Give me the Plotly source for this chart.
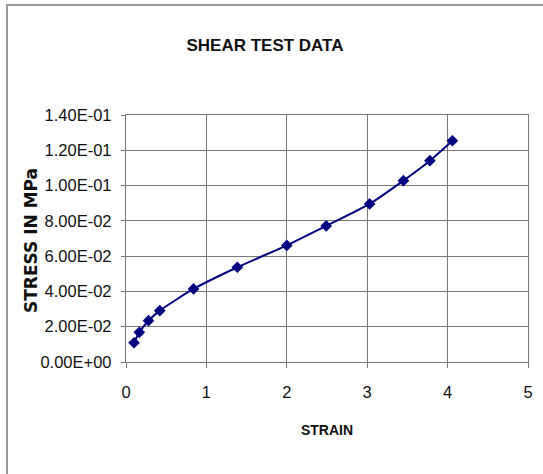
import plotly.graph_objects as go

strain = [0.10, 0.165, 0.28, 0.42, 0.84, 1.385, 2.0, 2.49, 3.03, 3.45, 3.78, 4.06]
stress = [0.0109, 0.0168, 0.0234, 0.0291, 0.0414, 0.0537, 0.0661, 0.0771, 0.0896, 0.1028, 0.1141, 0.1254]
y_tick_vals = [0, 0.02, 0.04, 0.06, 0.08, 0.10, 0.12, 0.14]
y_tick_text = ["0.00E+00", "2.00E-02", "4.00E-02", "6.00E-02", "8.00E-02", "1.00E-01", "1.20E-01", "1.40E-01"]
x_tick_vals = [0, 1, 2, 3, 4, 5]

FONT = "Liberation Sans Narrow, Arial Narrow, Liberation Sans, Arial, sans-serif"

fig = go.Figure()
fig.add_trace(go.Scatter(
    x=strain, y=stress, mode="lines+markers",
    line=dict(color="#000080", width=2, shape="spline", smoothing=0.6),
    marker=dict(symbol="diamond", size=9, color="#000080"),
    showlegend=False,
))

fig.update_layout(
    width=543, height=474,
    margin=dict(l=126, r=15, t=115, b=112, autoexpand=False),
    paper_bgcolor="white", plot_bgcolor="white",
    font=dict(family=FONT, size=16.5, color="#111111"),
    title=dict(text="<b>SHEAR TEST DATA</b>", x=0.488, xanchor="center", y=0.905, yanchor="middle",
               font=dict(family=FONT, size=17, color="#111111")),
    xaxis=dict(range=[0, 5], tickvals=x_tick_vals, showgrid=True, gridcolor="#777777", gridwidth=1.3,
               ticks="outside", ticklen=5, tickcolor="#777777", ticklabelstandoff=10,
               zeroline=False, showline=True, linecolor="#777777", linewidth=1.3, mirror=True,
               automargin=False,
               tickfont=dict(size=16.5),
               title=dict(text="<b>STRAIN</b>", font=dict(size=14), standoff=25)),
    yaxis=dict(range=[0, 0.14], tickvals=y_tick_vals, ticktext=y_tick_text, showgrid=True,
               gridcolor="#777777", gridwidth=1.3, ticks="outside", ticklen=4, tickcolor="#777777",
               ticklabelstandoff=6, automargin=False,
               zeroline=False, showline=True, linecolor="#777777", linewidth=1.3, mirror=True,
               tickfont=dict(size=16.5)),
)

fig.add_annotation(text="<b>STRESS IN MPa</b>", textangle=-90, xref="paper", yref="paper",
                   x=(31 - 126) / 402, y=(362 - 241) / 247, xanchor="center", yanchor="middle",
                   showarrow=False, font=dict(family="DejaVu Sans, sans-serif", size=17, color="#111111"))

fig.add_shape(type="rect", xref="paper", yref="paper", x0=-0.296, x1=1.1, y0=-0.5, y1=1.445,
              line=dict(color="#999999", width=2), fillcolor="rgba(0,0,0,0)", layer="below")

fig.write_html("out.html", config={"displayModeBar": False},
               post_script="document.body.style.margin='0';")
